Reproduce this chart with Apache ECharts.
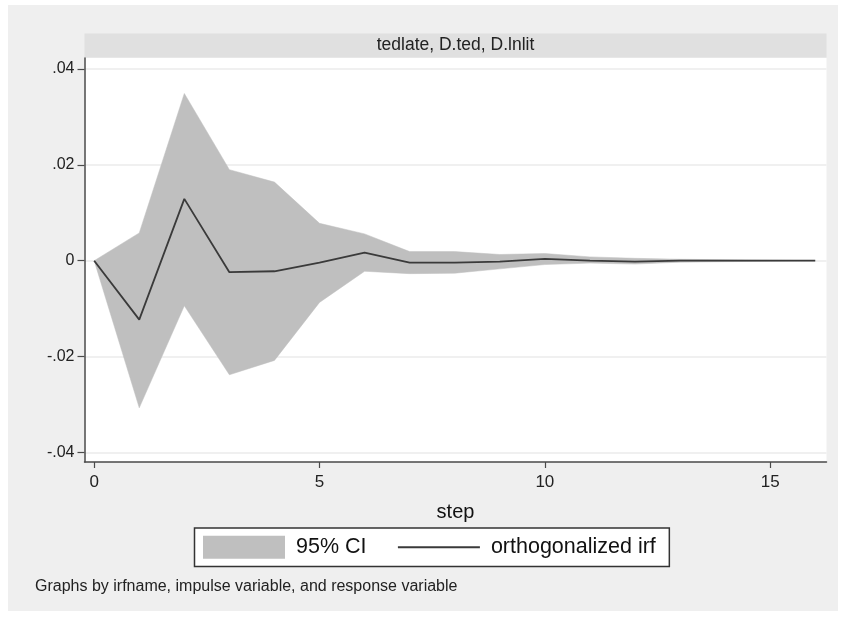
<!DOCTYPE html>
<html>
<head>
<meta charset="utf-8">
<script src="https://cdn.jsdelivr.net/npm/echarts@6/dist/echarts.min.js"></script>
<style>
html,body{margin:0;padding:0;background:#fff;}
#chart{width:844px;height:617px;}
</style>
</head>
<body>
<div id="chart"></div>
<script>
// ---- data ----
const steps = [0,1,2,3,4,5,6,7,8,9,10,11,12,13,14,15,16];
const irf   = [0,-0.0123,0.0129,-0.0024,-0.0022,-0.0004,0.0017,-0.0004,-0.0004,-0.0002,0.0004,0.0000,-0.0002,0.0000,0.0000,0.0000,0.0000];
const upper = [0,0.0058,0.0349,0.0190,0.0164,0.0078,0.0056,0.0019,0.0019,0.0013,0.0015,0.0008,0.0005,0.0003,0.0002,0.0001,0.0000];
const lower = [0,-0.0307,-0.0094,-0.0238,-0.0208,-0.0087,-0.0022,-0.0027,-0.0026,-0.0017,-0.0008,-0.0005,-0.0007,-0.0003,-0.0002,-0.0001,0.0000];
const yTickValues = [-0.04,-0.02,0,0.02,0.04];
const yTickLabels = ['-.04','-.02','0','.02','.04'];
const xTickValues = [0,5,10,15];
const panelTitle = 'tedlate, D.ted, D.lnlit';
const xAxisTitle = 'step';
const ciName = '95% CI';
const irfName = 'orthogonalized irf';
const footNote = 'Graphs by irfname, impulse variable, and response variable';

const FONT = '"Liberation Sans", Arial, sans-serif';
const chart = echarts.init(document.getElementById('chart'), null, {renderer:'canvas'});

const bandData = steps.map((s,i)=>[s, lower[i], upper[i]]);
const irfData  = steps.map((s,i)=>[s, irf[i]]);

function renderBand(params, api){
  if (params.dataIndex !== 0) return null;
  const pts = [];
  for (let i=0;i<steps.length;i++) pts.push(api.coord([steps[i], upper[i]]));
  for (let i=steps.length-1;i>=0;i--) pts.push(api.coord([steps[i], lower[i]]));
  return {type:'polygon', shape:{points:pts}, style:{fill:'#bfbfbf', stroke:'#bfbfbf', lineWidth:0.5}};
}

chart.setOption({
  animation:false,
  backgroundColor:'#ffffff',
  graphic:[
    {type:'rect', z:-10, shape:{x:8,y:5,width:830,height:606}, style:{fill:'#efefef'}},
    {type:'rect', z:-9, shape:{x:84.5,y:33.5,width:742,height:24}, style:{fill:'#e0e0e0'}},
    {type:'text', z:5, x:455.5, y:45.5, style:{text:panelTitle, fill:'#222', font:'17.5px '+FONT, textAlign:'center', textVerticalAlign:'middle'}},
    {type:'text', z:5, x:35, y:587, style:{text:footNote, fill:'#222', font:'16px '+FONT, textAlign:'left', textVerticalAlign:'middle'}}
  ],
  grid:{left:84.5, top:58, width:742, height:404, show:true, backgroundColor:'#ffffff', borderWidth:0, containLabel:false},
  xAxis:{
    type:'value', min:-0.215, max:16.25,
    name:xAxisTitle, nameLocation:'middle', nameGap:40,
    nameTextStyle:{fontSize:20, color:'#111', fontFamily:FONT},
    axisLine:{show:true, onZero:false, lineStyle:{color:'#4a4a4a', width:1.5}},
    axisTick:{show:true, length:6, customValues:xTickValues, lineStyle:{color:'#4a4a4a', width:1.2}},
    axisLabel:{customValues:xTickValues, fontSize:17, color:'#222', fontFamily:FONT, margin:12},
    splitLine:{show:false}
  },
  yAxis:{
    type:'value', min:-0.042, max:0.0423,
    axisLine:{show:true, onZero:false, lineStyle:{color:'#4a4a4a', width:1.5}},
    axisTick:{show:true, length:7, customValues:yTickValues, lineStyle:{color:'#4a4a4a', width:1.2}},
    axisLabel:{customValues:yTickValues, fontSize:16, color:'#222', fontFamily:FONT, margin:10,
      formatter:function(v){ const k = yTickValues.findIndex(t=>Math.abs(t-v)<1e-9); return k>=0 ? yTickLabels[k] : ''; }},
    splitLine:{show:true, lineStyle:{color:'#ebebeb', width:1.5}}
  },
  legend:{
    left:194.5, top:528, orient:'horizontal',
    padding:[7.75,13.5,7.75,8.5],
    backgroundColor:'#ffffff', borderColor:'#333', borderWidth:1.5,
    itemWidth:82, itemHeight:23, itemGap:30.5, selectedMode:false,
    textStyle:{fontSize:21.5, color:'#111', fontFamily:FONT, padding:[0,0,0,6]},
    data:[
      {name:ciName, icon:'rect', itemStyle:{color:'#bfbfbf', opacity:1, borderWidth:0}},
      {name:irfName, itemStyle:{opacity:0}, lineStyle:{color:'#3a3a3a', width:1.8}}
    ]
  },
  series:[
    {name:ciName, type:'custom', data:bandData, renderItem:renderBand, itemStyle:{color:'#bfbfbf'},
     encode:{x:0, y:[1,2]}, silent:true, z:2, clip:true},
    {name:irfName, type:'line', data:irfData, symbol:'none', color:'#3a3a3a',
     lineStyle:{color:'#3a3a3a', width:1.8}, z:3}
  ]
});
</script>
</body>
</html>
